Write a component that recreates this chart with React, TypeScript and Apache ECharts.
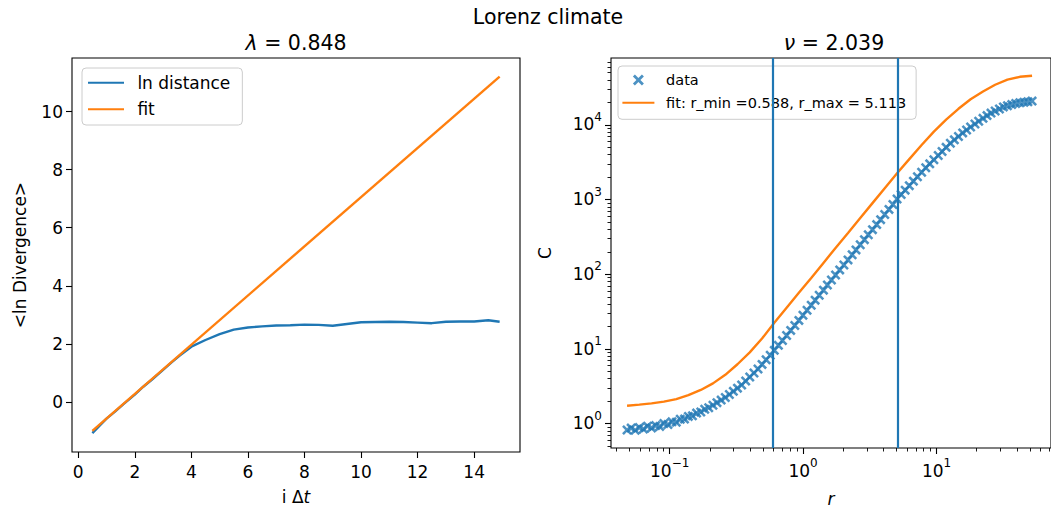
import React, { useEffect, useRef } from 'react';
import * as echarts from 'echarts';

const FONT = "'DejaVu Sans', sans-serif";
const BLUE = '#1f77b4';
const ORANGE = '#ff7f0e';

// ---- left panel: mean log divergence ----
const divT = [0.5, 0.8, 1.0, 1.3, 1.6, 2.0, 2.3, 2.6, 3.0, 3.3, 3.6, 4.0, 4.5, 5.0, 5.5, 6.0, 6.5, 7.0, 7.5, 8.0, 8.5, 9.0, 9.5, 10.0, 10.5, 11.0, 11.5, 12.0, 12.5, 13.0, 13.5, 14.0, 14.5, 14.9];
const divLn = [-1.08, -0.78, -0.58, -0.34, -0.08, 0.25, 0.52, 0.76, 1.10, 1.36, 1.60, 1.90, 2.13, 2.33, 2.49, 2.56, 2.60, 2.63, 2.64, 2.66, 2.65, 2.62, 2.68, 2.74, 2.75, 2.76, 2.75, 2.73, 2.71, 2.76, 2.77, 2.77, 2.81, 2.76];
const fitT = [0.5, 14.9];
const fitLn = [-1.0, 11.21];
const xTicksL = [0, 2, 4, 6, 8, 10, 12, 14];
const yTicksL = [0, 2, 4, 6, 8, 10];

// ---- right panel: correlation sum ----
const rValues = [0.0479, 0.0514, 0.0551, 0.0592, 0.0635, 0.0681, 0.0731, 0.0785, 0.0842, 0.0904,
  0.0970, 0.104, 0.112, 0.120, 0.129, 0.138, 0.148, 0.159, 0.171, 0.183,
  0.196, 0.211, 0.226, 0.243, 0.261, 0.280, 0.300, 0.322, 0.346, 0.371,
  0.398, 0.428, 0.459, 0.492, 0.528, 0.567, 0.608, 0.653, 0.700, 0.752,
  0.807, 0.866, 0.929, 0.997, 1.07, 1.15, 1.23, 1.32, 1.42, 1.52,
  1.63, 1.75, 1.88, 2.02, 2.17, 2.33, 2.49, 2.68, 2.88, 3.08,
  3.31, 3.56, 3.81, 4.09, 4.40, 4.71, 5.06, 5.43, 5.82, 6.25,
  6.71, 7.19, 7.73, 8.30, 8.89, 9.55, 10.3, 11.0, 11.8, 12.7,
  13.6, 14.6, 15.7, 16.8, 18.0, 19.4, 20.7, 22.3, 23.9, 25.6,
  27.5, 29.6, 31.7, 34.0, 36.6, 39.2, 42.1, 45.2, 48.4, 52.0];
const cValues = [0.822, 0.873, 0.817, 0.887, 0.849, 0.927, 0.879, 0.944, 0.920, 1.005,
  0.975, 1.059, 1.050, 1.146, 1.153, 1.253, 1.274, 1.387, 1.435, 1.563,
  1.637, 1.766, 1.914, 2.070, 2.239, 2.466, 2.710, 2.992, 3.304, 3.724,
  4.217, 4.775, 5.395, 6.223, 7.178, 8.241, 9.594, 11.19, 13.00, 15.17,
  17.74, 20.65, 24.15, 28.31, 32.96, 38.55, 45.08, 52.48, 61.38, 71.94,
  83.75, 97.95, 114.6, 133.4, 156.0, 182.4, 212.3, 248.9, 291.1, 338.8,
  396.3, 463.4, 539.5, 631.0, 739.6, 861.0, 1019, 1169, 1340, 1538,
  1766, 2023, 2328, 2667, 3013, 3420, 3890, 4406, 5012, 5689,
  6310, 7015, 7816, 8570, 9397, 10300, 11220, 12240, 13340, 14390,
  15350, 16370, 17420, 18030, 18710, 19360, 19770, 20140, 20460, 20840];
const fitR = [0.0479, 0.0592, 0.0731, 0.0904, 0.112, 0.138, 0.171, 0.211, 0.261, 0.322, 0.398, 0.492, 0.608, 0.752, 0.929, 1.15, 1.42, 1.75, 2.17, 2.68, 3.31, 4.09, 5.06, 6.25, 7.73, 9.55, 11.8, 14.6, 18.0, 22.3, 27.5, 34.0, 42.1, 52.0];
const fitC = [1.738, 1.799, 1.871, 1.972, 2.133, 2.410, 2.831, 3.467, 4.519, 6.252, 9.016, 13.80, 22.49, 35.65, 56.49, 89.54, 142.2, 225.4, 357.3, 566.2, 897.5, 1422, 2254, 3483, 5383, 8147, 11800, 16440, 22030, 28050, 34510, 40360, 44060, 45600];
const rBounds = [0.588, 5.113];
const xTicksR = [0.1, 1, 10];
const xMinorR = [0.04, 0.05, 0.06, 0.07, 0.08, 0.09, 0.2, 0.3, 0.4, 0.5, 0.6, 0.7, 0.8, 0.9, 2, 3, 4, 5, 6, 7, 8, 9, 20, 30, 40, 50, 60, 70];
const yTicksR = [1, 10, 100, 1000, 10000];
const yMinorR = [0.5, 0.6, 0.7, 0.8, 0.9, 2, 3, 4, 5, 6, 7, 8, 9, 20, 30, 40, 50, 60, 70, 80, 90, 200, 300, 400, 500, 600, 700, 800, 900, 2000, 3000, 4000, 5000, 6000, 7000, 8000, 9000, 20000, 30000, 40000, 50000, 60000, 70000];

const FIT_NAME = 'fit: r_min =0.588, r_max = 5.113';
const X_PATH = 'path://M1.8,0 L5,3.2 L8.2,0 L10,1.8 L6.8,5 L10,8.2 L8.2,10 L5,6.8 L1.8,10 L0,8.2 L3.2,5 L0,1.8 Z';

const powLabel = (v: number) => {
  const e = Math.round(Math.log10(v));
  return '{b|10}{s|' + (e < 0 ? '\u2212' + -e : String(e)) + '}';
};
const powRich = {
  b: { fontSize: 17, fontFamily: FONT, color: '#000', verticalAlign: 'bottom', lineHeight: 22 },
  s: { fontSize: 12, fontFamily: FONT, color: '#000', verticalAlign: 'top', lineHeight: 22 },
};

const tickStyle = { color: '#000', width: 1.1 };
const labelBase = { fontSize: 17, color: '#000', fontFamily: FONT };
const noLine = { show: false, onZero: false };
const hideDot = { opacity: 0 };

export default function App() {
  const ref = useRef<HTMLDivElement>(null);
  useEffect(() => {
    const chart = echarts.init(ref.current!, null, { renderer: 'svg' });
    const option: any = {
      animation: false,
      backgroundColor: '#fff',
      textStyle: { fontFamily: FONT },
      graphic: [
        { type: 'text', x: 548, y: 17, style: { text: 'Lorenz climate', fill: '#000', fontSize: 20.5, fontFamily: FONT, align: 'center', verticalAlign: 'middle' } },
        { type: 'text', x: 296, y: 43, style: { text: '{i|λ} = 0.848', fill: '#000', fontSize: 20.5, fontFamily: FONT, align: 'center', verticalAlign: 'middle', rich: { i: { fontStyle: 'italic', fontSize: 20.5, fontFamily: FONT } } } },
        { type: 'text', x: 834, y: 43, style: { text: '{i|ν} = 2.039', fill: '#000', fontSize: 20.5, fontFamily: FONT, align: 'center', verticalAlign: 'middle', rich: { i: { fontStyle: 'italic', fontSize: 20.5, fontFamily: FONT } } } },
      ],
      grid: [
        { left: 72, top: 58, width: 448, height: 394, show: true, borderColor: '#000', borderWidth: 1.1, backgroundColor: 'transparent' },
        { left: 611, top: 58, width: 448, height: 394, show: true, borderColor: '#000', borderWidth: 1.1, backgroundColor: 'transparent' },
      ],
      legend: [
        {
          data: [{ name: 'ln distance', itemStyle: hideDot }, { name: 'fit', itemStyle: hideDot }],
          left: 82, top: 68, orient: 'vertical', selectedMode: false,
          itemWidth: 36, itemHeight: 18, itemGap: 8.6, padding: [5.7, 12, 6.7, 5],
          backgroundColor: 'rgba(255,255,255,0.8)', borderColor: '#cccccc', borderWidth: 1, borderRadius: 4,
          textStyle: { fontSize: 17, color: '#000', fontFamily: FONT, lineHeight: 18, padding: [0, 0, 0, 8.4] },
        },
        {
          data: ['data', { name: FIT_NAME, itemStyle: hideDot }],
          left: 618, top: 66, orient: 'vertical', selectedMode: false,
          itemWidth: 32, itemHeight: 11, itemGap: 6.7, padding: [6, 10, 8.6, 3.4],
          backgroundColor: 'rgba(255,255,255,0.8)', borderColor: '#cccccc', borderWidth: 1, borderRadius: 4,
          textStyle: { fontSize: 14.5, color: '#000', fontFamily: FONT, lineHeight: 16, padding: [0, 0, 0, 6.7] },
        },
      ],
      xAxis: [
        {
          type: 'value', gridIndex: 0, position: 'bottom', min: -0.22, max: 15.62,
          axisLine: noLine, splitLine: { show: false },
          axisTick: { show: true, customValues: xTicksL, length: 6, lineStyle: tickStyle },
          axisLabel: { ...labelBase, customValues: xTicksL, margin: 11 },
          name: 'i Δ{it|t}', nameLocation: 'middle', nameGap: 36,
          nameTextStyle: { ...labelBase, rich: { it: { ...labelBase, fontStyle: 'italic' } } },
        },
        {
          type: 'log', logBase: 10, gridIndex: 1, position: 'bottom', min: 0.0363, max: 72.1,
          axisLine: noLine, splitLine: { show: false },
          axisTick: { show: true, customValues: xTicksR, length: 6, lineStyle: tickStyle },
          axisLabel: { ...labelBase, customValues: xTicksR, margin: 9, formatter: powLabel, rich: powRich },
          name: 'r', nameLocation: 'middle', nameGap: 42,
          nameTextStyle: { ...labelBase, fontStyle: 'italic' },
        },
        {
          type: 'log', logBase: 10, gridIndex: 1, position: 'bottom', min: 0.0363, max: 72.1,
          axisLine: noLine, splitLine: { show: false }, axisLabel: { show: false },
          axisTick: { show: true, customValues: xMinorR, length: 3.5, lineStyle: { color: '#000', width: 0.9 } },
        },
      ],
      yAxis: [
        {
          type: 'value', gridIndex: 0, position: 'left', min: -1.73, max: 11.85,
          axisLine: noLine, splitLine: { show: false },
          axisTick: { show: true, customValues: yTicksL, length: 6, lineStyle: tickStyle },
          axisLabel: { ...labelBase, customValues: yTicksL, margin: 9 },
          name: '<ln Divergence>', nameLocation: 'middle', nameGap: 44, nameRotate: 90,
          nameTextStyle: { ...labelBase },
        },
        {
          type: 'log', logBase: 10, gridIndex: 1, position: 'left', min: 0.473, max: 78700,
          axisLine: noLine, splitLine: { show: false },
          axisTick: { show: true, customValues: yTicksR, length: 6, lineStyle: tickStyle },
          axisLabel: { ...labelBase, customValues: yTicksR, margin: 9, formatter: powLabel, rich: powRich, padding: [0, 0, 6, 0] },
          name: 'C', nameLocation: 'middle', nameGap: 58, nameRotate: 90,
          nameTextStyle: { ...labelBase },
        },
        {
          type: 'log', logBase: 10, gridIndex: 1, position: 'left', min: 0.473, max: 78700,
          axisLine: noLine, splitLine: { show: false }, axisLabel: { show: false },
          axisTick: { show: true, customValues: yMinorR, length: 3.5, lineStyle: { color: '#000', width: 0.9 } },
        },
      ],
      series: [
        {
          type: 'line', name: 'ln distance', xAxisIndex: 0, yAxisIndex: 0, symbol: 'none', color: BLUE,
          lineStyle: { color: BLUE, width: 2.4 }, data: divT.map((t, i) => [t, divLn[i]]),
        },
        {
          type: 'line', name: 'fit', xAxisIndex: 0, yAxisIndex: 0, symbol: 'none', color: ORANGE,
          lineStyle: { color: ORANGE, width: 2.4 }, data: fitT.map((t, i) => [t, fitLn[i]]),
        },
        {
          type: 'scatter', name: 'data', xAxisIndex: 1, yAxisIndex: 1, symbol: X_PATH, symbolSize: 10,
          symbolKeepAspect: true, color: BLUE, itemStyle: { color: BLUE },
          data: rValues.map((r, i) => [r, cValues[i]]),
        },
        {
          type: 'line', name: FIT_NAME, xAxisIndex: 1, yAxisIndex: 1, symbol: 'none', color: ORANGE,
          lineStyle: { color: ORANGE, width: 2.4 }, data: fitR.map((r, i) => [r, fitC[i]]),
          markLine: {
            silent: true, symbol: ['none', 'none'], label: { show: false },
            lineStyle: { color: BLUE, width: 2.2, type: 'solid' },
            data: rBounds.map((v) => ({ xAxis: v })),
          },
        },
      ],
    };
    chart.setOption(option);
    return () => chart.dispose();
  }, []);
  return <div ref={ref} style={{ position: 'absolute', left: 0, top: 0, width: 1051, height: 512, background: '#fff' }} />;
}
